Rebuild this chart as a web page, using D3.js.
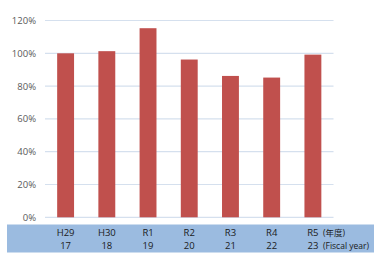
<!DOCTYPE html>
<html>
<head>
<meta charset="utf-8">
<script src="https://cdn.jsdelivr.net/npm/d3@7"></script>
<style>
  body { margin: 0; background: #fff; }
  svg text { font-family: "Open Sans", "Noto Sans CJK JP", sans-serif; }
</style>
</head>
<body>
<svg id="chart" width="377" height="258"></svg>
<script>
// fiscal years, japanese era label on top, western short year below
var eraLabels = ["H29", "H30", "R1", "R2", "R3", "R4", "R5"];
var yearLabels = ["17", "18", "19", "20", "21", "22", "23"];
var ratios = [100, 101.3, 115.3, 96.2, 86.2, 85.2, 99.2];
var yTicks = [0, 20, 40, 60, 80, 100, 120];

var svg = d3.select("#chart");

var x = d3.scaleBand()
  .domain(eraLabels)
  .range([45, 333.5])
  .paddingInner(0.59)
  .paddingOuter(0.295);

var y = d3.scaleLinear()
  .domain([0, 120])
  .range([217.3, 20.5]);

// gridlines
svg.append("g")
  .selectAll("line")
  .data(yTicks)
  .join("line")
  .attr("x1", 45)
  .attr("x2", 333.5)
  .attr("y1", function (d) { return y(d); })
  .attr("y2", function (d) { return y(d); })
  .attr("stroke", "#D5E0EE")
  .attr("stroke-width", 1.2);

// y axis labels
var yAxis = d3.axisLeft(y)
  .tickValues(yTicks)
  .tickSize(0)
  .tickPadding(0)
  .tickFormat(function (d) { return d + "%"; });

svg.append("g")
  .attr("transform", "translate(36,0)")
  .call(yAxis)
  .call(function (g) { g.select(".domain").remove(); })
  .selectAll("text")
  .attr("fill", "#595959")
  .attr("font-size", "9.5px");

// bars
svg.append("g")
  .selectAll("rect")
  .data(ratios)
  .join("rect")
  .attr("x", function (d, i) { return x(eraLabels[i]); })
  .attr("width", x.bandwidth())
  .attr("y", function (d) { return y(d); })
  .attr("height", function (d) { return y(0) - y(d); })
  .attr("fill", "#C0504D");

// category band under the plot
svg.append("rect")
  .attr("x", 7)
  .attr("y", 224.5)
  .attr("width", 367)
  .attr("height", 28)
  .attr("fill", "#9BBBE0");

var labels = svg.append("g")
  .attr("font-size", "9.5px")
  .attr("fill", "#1a1a1a")
  .attr("text-anchor", "middle");

labels.selectAll("text.era")
  .data(eraLabels)
  .join("text")
  .attr("class", "era")
  .attr("x", function (d) { return x(d) + x.bandwidth() / 2; })
  .attr("y", 235.5)
  .text(function (d) { return d; });

labels.selectAll("text.yr")
  .data(yearLabels)
  .join("text")
  .attr("class", "yr")
  .attr("x", function (d, i) { return x(eraLabels[i]) + x.bandwidth() / 2; })
  .attr("y", 249)
  .text(function (d) { return d; });

svg.append("text")
  .attr("x", 323)
  .attr("y", 235.5)
  .attr("font-size", "8.5px")
  .attr("fill", "#1a1a1a")
  .text("(年度)");

svg.append("text")
  .attr("x", 323)
  .attr("y", 249)
  .attr("font-size", "8.5px")
  .attr("fill", "#1a1a1a")
  .text("(Fiscal year)");
</script>
</body>
</html>
